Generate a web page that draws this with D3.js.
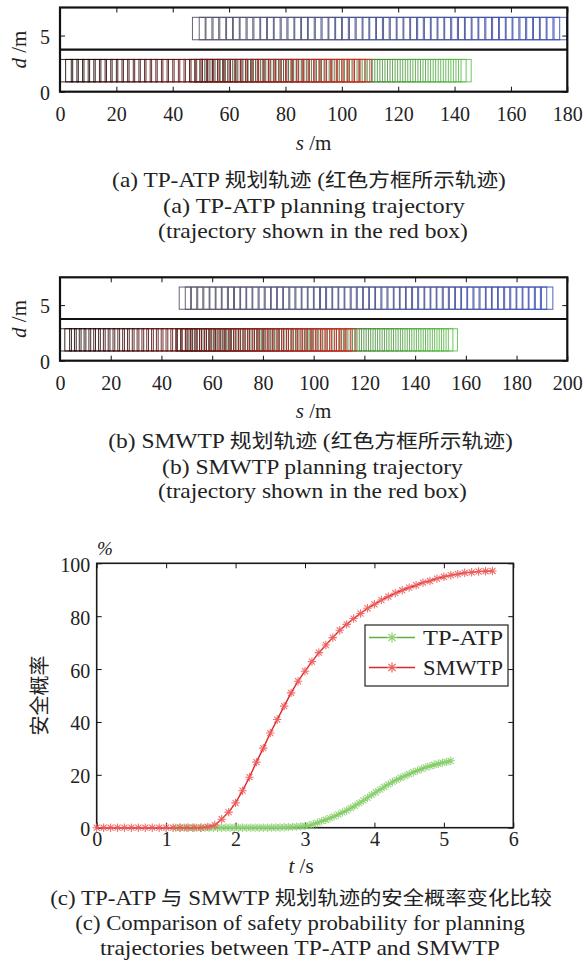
<!DOCTYPE html>
<html><head><meta charset="utf-8">
<script src="https://cdn.jsdelivr.net/npm/d3@7/dist/d3.min.js"></script>
<style>
body{margin:0;background:#fff;}
svg text{font-family:"Liberation Serif","DejaVu Serif",serif;fill:#222;}
</style></head><body>
<svg id="chart" width="584" height="963"></svg>
<script>
// ---------------- DATA ----------------
// lane geometry (m)
const dMax = 7.5, laneDivider = 3.75, lowerLane = 1.875, upperLane = 5.625;
const vehLen = 4.5, vehW = 2;
const dTicks = [0, 5];
const sTicksA = [0, 20, 40, 60, 80, 100, 120, 140, 160, 180];
const sTicksB = [0, 20, 40, 60, 80, 100, 120, 140, 160, 180, 200];

// (a) TP-ATP: rear positions s (m) of each box
const egoA = [0,2,4,6,8,10,12,14,16,18,20,22,24,26,28,30,32,34,36,38,40,42,44,46,48,50,52,54,56,58,60,62,64,66,68,70,72,74,76,78,80,82,84,86,88,90,92,94,96,98,100,102,104,106];
const blueA = [47.0,49.4,51.8,54.3,56.7,59.1,61.5,63.9,66.4,68.8,71.2,73.6,76.0,78.5,80.9,83.3,85.7,88.1,90.6,93.0,95.4,97.8,100.2,102.7,105.1,107.5,109.9,112.3,114.8,117.2,119.6,122.0,124.4,126.9,129.3,131.7,134.1,136.5,139.0,141.4,143.8,146.2,148.6,151.1,153.5,155.9,158.3,160.7,163.2,165.6,168.0,170.4,172.8,175.3];
const greenA = [46.0,47.8,49.6,51.4,53.2,55.0,56.8,58.6,60.4,62.2,64.0,65.8,67.6,69.4,71.2,73.0,74.8,76.6,78.4,80.2,82.0,83.8,85.6,87.4,89.2,91.0,92.8,94.6,96.4,98.2,100.0,101.8,103.6,105.4,107.2,109.0,110.8,112.6,114.4,116.2,118.0,119.8,121.6,123.4,125.2,127.0,128.8,130.6,132.4,134.2,136.0,137.8,139.6,141.4];

// (b) SMWTP
const egoB = [0,1.9,3.8,5.7,7.6,9.5,11.4,13.3,15.2,17.1,19.0,20.9,22.8,24.7,26.6,28.5,30.4,32.3,34.2,36.1,38.0,39.9,41.8,43.7,45.6,47.5,49.4,51.3,53.2,55.1,57.0,58.9,60.8,62.7,64.6,66.5,68.4,70.3,72.2,74.1,76.0,77.9,79.8,81.7,83.6,85.5,87.4,89.3,91.2,93.1,95.0,96.9,98.8,100.7,102.6,104.5,106.4,108.3,110.2,112.1];
const blueB = [47.0,49.4,51.8,54.3,56.7,59.1,61.5,63.9,66.4,68.8,71.2,73.6,76.0,78.5,80.9,83.3,85.7,88.1,90.6,93.0,95.4,97.8,100.2,102.7,105.1,107.5,109.9,112.3,114.8,117.2,119.6,122.0,124.4,126.9,129.3,131.7,134.1,136.5,139.0,141.4,143.8,146.2,148.6,151.1,153.5,155.9,158.3,160.7,163.2,165.6,168.0,170.4,172.8,175.3,177.7,180.1,182.5,184.9,187.4,189.8];
const greenB = [46.0,47.8,49.6,51.4,53.2,55.0,56.8,58.6,60.4,62.2,64.0,65.8,67.6,69.4,71.2,73.0,74.8,76.6,78.4,80.2,82.0,83.8,85.6,87.4,89.2,91.0,92.8,94.6,96.4,98.2,100.0,101.8,103.6,105.4,107.2,109.0,110.8,112.6,114.4,116.2,118.0,119.8,121.6,123.4,125.2,127.0,128.8,130.6,132.4,134.2,136.0,137.8,139.6,141.4,143.2,145.0,146.8,148.6,150.4,152.2];

// (c) safety probability (%)
const tTicks = [0,1,2,3,4,5,6];
const pTicks = [0,20,40,60,80,100];
const tSMWTP = [0,0.1,0.2,0.3,0.4,0.5,0.6,0.7,0.8,0.9,1.0,1.1,1.2,1.3,1.4,1.5,1.6,1.7,1.8,1.9,2.0,2.1,2.2,2.3,2.4,2.5,2.6,2.7,2.8,2.9,3.0,3.1,3.2,3.3,3.4,3.5,3.6,3.7,3.8,3.9,4.0,4.1,4.2,4.3,4.4,4.5,4.6,4.7,4.8,4.9,5.0,5.1,5.2,5.3,5.4,5.5,5.6,5.7];
const pSMWTP = [0,0,0,0,0,0,0,0,0,0,0,0,0,0,0,0,0.3,1.0,3.2,5.9,9.4,14.0,19.1,24.8,30.1,35.8,40.9,46.0,51.0,55.4,59.2,62.8,66.2,69.1,71.9,74.7,76.9,79.1,81.0,83.0,84.5,86.1,87.4,88.7,89.8,90.8,91.7,92.7,93.3,94.2,94.9,95.5,95.9,96.4,96.6,96.9,97.0,97.1];
const tTPATP = [1.14,1.2,1.26,1.32,1.38,1.44,1.5,1.56,1.62,1.68,1.74,1.8,1.86,1.92,1.98,2.04,2.1,2.16,2.22,2.28,2.34,2.4,2.46,2.52,2.58,2.64,2.7,2.76,2.82,2.88,2.94,3.0,3.06,3.12,3.18,3.24,3.3,3.36,3.42,3.48,3.54,3.6,3.66,3.72,3.78,3.84,3.9,3.96,4.02,4.08,4.14,4.2,4.26,4.32,4.38,4.44,4.5,4.56,4.62,4.68,4.74,4.8,4.86,4.92,4.98,5.04,5.1];
const pTPATP = [0,0,0,0,0,0,0,0,0,0,0,0,0,0,0,0,0,0,0,0,0,0,0,0.05,0.08,0.1,0.15,0.2,0.3,0.4,0.5,0.65,0.9,1.3,1.8,2.5,3.0,3.6,4.3,5.0,5.8,6.5,7.4,8.3,9.3,10.3,11.3,12.4,13.4,14.4,15.4,16.4,17.3,18.1,18.9,19.6,20.3,21.0,21.6,22.2,22.8,23.3,23.8,24.2,24.6,24.9,25.3];
const seriesNames = ["TP-ATP", "SMWTP"];

const captionA = ["(a) TP-ATP 规划轨迹 (红色方框所示轨迹)", "(a) TP-ATP planning trajectory", "(trajectory shown in the red box)"];
const captionB = ["(b) SMWTP 规划轨迹 (红色方框所示轨迹)", "(b) SMWTP planning trajectory", "(trajectory shown in the red box)"];
const captionC = ["(c) TP-ATP 与 SMWTP 规划轨迹的安全概率变化比较", "(c) Comparison of safety probability for planning", "trajectories between TP-ATP and SMWTP"];

// ---------------- DRAWING ----------------
const svg = d3.select("#chart");
const SERIF = '"Liberation Serif", "DejaVu Serif", serif';
const CJK = '"Noto Sans CJK SC", sans-serif';

function richText(g, str, x, y, size, cjkSize, targetW, rotate) {
  const t = g.append("text").attr("text-anchor", "middle");
  const runs = str.match(/[\u3000-\u9fff\uff00-\uffef]+|[^\u3000-\u9fff\uff00-\uffef]+/g);
  runs.forEach(r => {
    const isC = /[\u3000-\u9fff]/.test(r);
    t.append("tspan").style("font-family", isC ? CJK : SERIF)
      .attr("font-size", isC ? cjkSize : size).text(r);
  });
  let tr = `translate(${x},${y})`;
  if (rotate) tr += ` rotate(${rotate})`;
  if (targetW) {
    const w = t.node().getComputedTextLength();
    tr += ` scale(${targetW / w},1)`;
  }
  t.attr("transform", tr);
  return t;
}

function unitLabel(g, italicPart, rest, x, y, size, rotate) {
  const t = g.append("text").attr("text-anchor", "middle").attr("font-size", size)
    .attr("transform", `translate(${x},${y})` + (rotate ? ` rotate(${rotate})` : ""));
  t.append("tspan").attr("font-style", "italic").text(italicPart);
  t.append("tspan").text(rest);
}

function styleAxis(axG, fontSize) {
  axG.attr("font-family", null).attr("font-size", null);
  axG.select(".domain").remove();
  axG.selectAll("line").attr("stroke", "#111").attr("stroke-width", 1);
  axG.selectAll("text").attr("font-size", fontSize).attr("fill", "#222");
}

function drawBoxes(g, x, y, arr, laneC, c0, c1) {
  const n = arr.length;
  const col = d3.interpolateRgb(c0, c1);
  g.append("g").selectAll("rect").data(arr).join("rect")
    .attr("x", d => x(d)).attr("width", d => x(d + vehLen) - x(d))
    .attr("y", y(laneC + vehW / 2)).attr("height", y(laneC - vehW / 2) - y(laneC + vehW / 2))
    .attr("fill", "none").attr("stroke", (d, i) => col(i / (n - 1)))
    .attr("stroke-width", 1).attr("stroke-opacity", 0.85);
}

function lanePanel(p) {
  const x = d3.scaleLinear().domain([0, p.sMax]).range([60, 567.3]);
  const y = d3.scaleLinear().domain([0, dMax]).range([p.bottom, p.top]);
  const g = svg.append("g");
  drawBoxes(g, x, y, p.blue, upperLane, "#4a4a5e", "#3346b0");
  drawBoxes(g, x, y, p.green, lowerLane, "#1c2616", "#58bd46");
  drawBoxes(g, x, y, p.ego, lowerLane, "#140202", "#e02a2a");
  g.append("line").attr("x1", x(0)).attr("x2", x(p.sMax))
    .attr("y1", y(laneDivider)).attr("y2", y(laneDivider))
    .attr("stroke", "#111").attr("stroke-width", 2.2);
  const fmt = d3.format("d");
  const ab = g.append("g").attr("transform", `translate(0,${p.bottom})`)
    .call(d3.axisBottom(x).tickValues(p.ticks).tickFormat(fmt).tickSize(-5).tickPadding(15.5));
  styleAxis(ab, 20);
  const at = g.append("g").attr("transform", `translate(0,${p.top})`)
    .call(d3.axisTop(x).tickValues(p.ticks).tickSize(-5).tickFormat(""));
  styleAxis(at, 20);
  const al = g.append("g").attr("transform", `translate(60,0)`)
    .call(d3.axisLeft(y).tickValues(dTicks).tickFormat(fmt).tickSize(-5).tickPadding(10));
  styleAxis(al, 20);
  al.selectAll("text").attr("dy", "0.38em");
  const ar = g.append("g").attr("transform", `translate(567.3,0)`)
    .call(d3.axisRight(y).tickValues(dTicks).tickSize(-5).tickFormat(""));
  styleAxis(ar, 20);
  g.append("rect").attr("x", 60).attr("y", p.top).attr("width", 507.3).attr("height", p.bottom - p.top)
    .attr("fill", "none").attr("stroke", "#111").attr("stroke-width", 2.2);
  unitLabel(g, "d", " /m", 26, (p.top + p.bottom) / 2, 21, -90);
  unitLabel(g, "s", " /m", 313.5, p.sLabelY, 21);
  p.caption.forEach((c, i) => richText(g, c, p.capX[i], p.capY[i], 21, 19.5, p.capW[i]));
}

lanePanel({sMax: 180, ticks: sTicksA, top: 7.5, bottom: 91.7, ego: egoA, blue: blueA, green: greenA,
  sLabelY: 150, caption: captionA, capX: [309, 314, 313], capY: [187, 213, 238], capW: [394, 302, 310]});
lanePanel({sMax: 200, ticks: sTicksB, top: 277.3, bottom: 360.7, ego: egoB, blue: blueB, green: greenB,
  sLabelY: 418, caption: captionB, capX: [310.5, 312.5, 312.5], capY: [448, 474, 498], capW: [405, 301, 309]});

// ---- (c) safety probability ----
(function () {
  const x = d3.scaleLinear().domain([0, 6]).range([96.7, 513.3]);
  const y = d3.scaleLinear().domain([0, 100]).range([827.7, 563.3]);
  const fmt = d3.format("d");
  const g = svg.append("g");
  const ab = g.append("g").attr("transform", "translate(0,827.7)")
    .call(d3.axisBottom(x).tickValues(tTicks).tickFormat(fmt).tickSize(-5).tickPadding(4.5));
  styleAxis(ab, 20);
  const at = g.append("g").attr("transform", "translate(0,563.3)")
    .call(d3.axisTop(x).tickValues(tTicks).tickSize(-5).tickFormat(""));
  styleAxis(at, 20);
  const al = g.append("g").attr("transform", "translate(96.7,0)")
    .call(d3.axisLeft(y).tickValues(pTicks).tickFormat(fmt).tickSize(-5).tickPadding(6.5));
  styleAxis(al, 20);
  al.selectAll("text").attr("dy", "0.4em");
  const ar = g.append("g").attr("transform", "translate(513.3,0)")
    .call(d3.axisRight(y).tickValues(pTicks).tickSize(-5).tickFormat(""));
  styleAxis(ar, 20);
  g.append("rect").attr("x", 96.7).attr("y", 563.3).attr("width", 416.6).attr("height", 264.4)
    .attr("fill", "none").attr("stroke", "#1a1a1a").attr("stroke-width", 1.6);

  const star = r => { const k = r * 0.72; return `M${-r},0H${r}M0,${-r}V${r}M${-k},${-k}L${k},${k}M${-k},${k}L${k},${-k}`; };
  const line = d3.line().x(d => x(d[0])).y(d => y(d[1]));
  const series = [
    {t: tTPATP, p: pTPATP, line: "#5cb043", mark: "#8cd070"},
    {t: tSMWTP, p: pSMWTP, line: "#e02626", mark: "#ee5f5f"}
  ];
  series.forEach(s => {
    const pts = s.t.map((t, i) => [t, s.p[i]]);
    g.append("path").attr("d", line(pts)).attr("fill", "none").attr("stroke", s.line).attr("stroke-width", 1.4);
    g.append("g").selectAll("path").data(pts).join("path")
      .attr("transform", d => `translate(${x(d[0])},${y(d[1])})`)
      .attr("d", star(4.2)).attr("fill", "none").attr("stroke", s.mark)
      .attr("stroke-width", 1.1).attr("stroke-opacity", 0.9);
  });

  // legend
  const lg = g.append("g");
  lg.append("rect").attr("x", 365).attr("y", 625).attr("width", 143).attr("height", 61)
    .attr("fill", "#fff").attr("stroke", "#222").attr("stroke-width", 1.2);
  seriesNames.forEach((nm, i) => {
    const yy = 637.5 + i * 30, s = series[i];
    lg.append("line").attr("x1", 369).attr("x2", 415).attr("y1", yy).attr("y2", yy)
      .attr("stroke", s.line).attr("stroke-width", 1.4);
    lg.append("path").attr("transform", `translate(392,${yy})`).attr("d", star(5))
      .attr("fill", "none").attr("stroke", s.mark).attr("stroke-width", 1.2);
    lg.append("text").attr("x", 423).attr("y", yy + 7.5).attr("font-size", 21)
      .attr("textLength", 80).attr("lengthAdjust", "spacingAndGlyphs").text(nm);
  });

  g.append("text").attr("x", 97).attr("y", 555).attr("font-size", 19).attr("font-style", "italic").text("%");
  richText(g, "安全概率", 47, 695.5, 20, 20, null, -90);
  unitLabel(g, "t", " /s", 301, 873, 21);
  captionC.forEach((c, i) => richText(g, c, [301, 300, 300][i], [905, 930, 955][i], 21, 19.5, [502, 450, 400][i]));
})();
</script>
</body></html>
